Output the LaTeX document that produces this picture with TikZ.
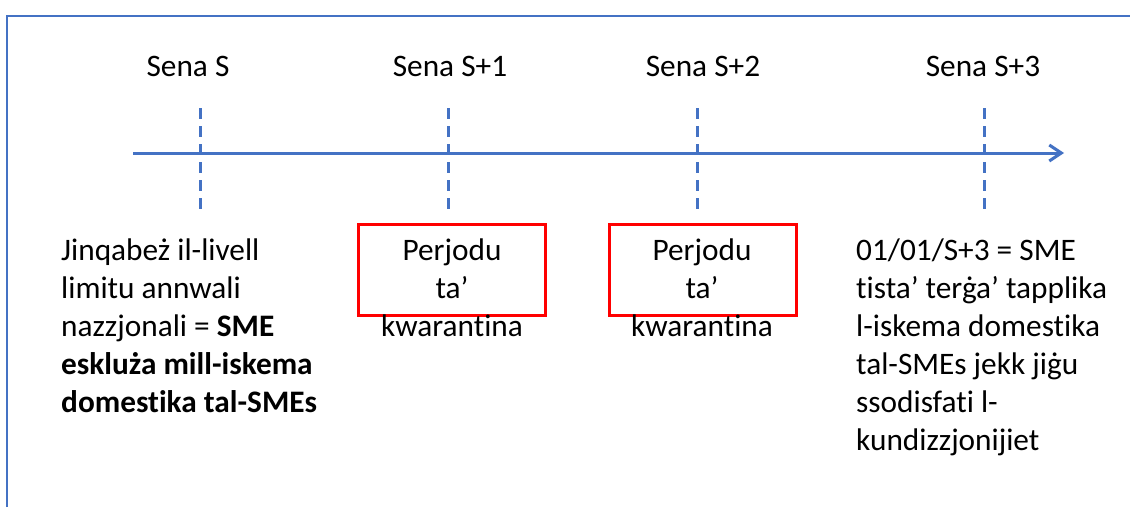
\documentclass[tikz,border=0pt]{standalone}
\usepackage{fontspec}
\setmainfont{Carlito}[Ligatures=NoCommon]
\usetikzlibrary{arrows.meta}
\definecolor{axisblue}{HTML}{4472C4}
\definecolor{boxred}{HTML}{FF0000}
\tikzset{
  frameline/.style={draw=axisblue, line width=2pt},
  axisline/.style={draw=axisblue, line width=3pt, -{Straight Barb[length=12pt,width=16pt,line width=3pt]}},
  tickline/.style={draw=axisblue, line width=3pt, dash pattern=on 11pt off 7pt},
  yearlabel/.style={anchor=base, inner sep=0pt, font=\fontsize{31.3}{38}\selectfont},
  desc/.style={anchor=base west, inner sep=0pt, align=left, font=\fontsize{31.3}{38}\selectfont},
  desccenter/.style={anchor=base, inner sep=0pt, align=center, font=\fontsize{31.3}{38}\selectfont},
  qbox/.style={draw=boxred, line width=3pt, minimum width=187pt, minimum height=91pt, inner sep=0pt}
}
\begin{document}
\begin{tikzpicture}[x=1pt,y=-1pt]
\useasboundingbox[fill=white] (0,0) rectangle (1130,507);
% frame
\coordinate (fbl) at (7,507);
\coordinate (ftl) at (7,16);
\coordinate (ftr) at (1130,16);
\draw[frameline] (fbl) -- (ftl) -- (ftr);
% axis
\coordinate (a0) at (133,153);
\coordinate (a1) at (1064,153);
\draw[axisline] (a0) -- (a1);
% ticks
\coordinate (t0a) at (200,108); \coordinate (t0b) at (200,212);
\coordinate (t1a) at (448,108); \coordinate (t1b) at (448,212);
\coordinate (t2a) at (697,108); \coordinate (t2b) at (697,212);
\coordinate (t3a) at (984,108); \coordinate (t3b) at (984,212);
\draw[tickline] (t0a) -- (t0b);
\draw[tickline] (t1a) -- (t1b);
\draw[tickline] (t2a) -- (t2b);
\draw[tickline] (t3a) -- (t3b);
% year labels
\node[yearlabel] (y0) at (188,76) {Sena S};
\node[yearlabel] (y1) at (450,76) {Sena S+1};
\node[yearlabel] (y2) at (703,76) {Sena S+2};
\node[yearlabel] (y3) at (983,76) {Sena S+3};
% quarantine boxes
\node[qbox] (q1) at (452,270) {};
\node[qbox] (q2) at (702.5,270) {};
\node[desccenter] (p1) at (452,336) {Perjodu\\ta’\\kwarantina};
\node[desccenter] (p2) at (702,336) {Perjodu\\ta’\\kwarantina};
% descriptions
\node[desc] (d0) at (61,412) {Jinqabeż il-livell\\limitu annwali\\nazzjonali = \textbf{SME}\\\textbf{eskluża mill-iskema}\\\textbf{domestika tal-SMEs}};
\node[desc] (d3) at (856,450) {01/01/S+3 = SME\\tista’ terġa’ tapplika\\l-iskema domestika\\tal-SMEs jekk jiġu\\ssodisfati l-\\kundizzjonijiet};
\end{tikzpicture}
\end{document}
